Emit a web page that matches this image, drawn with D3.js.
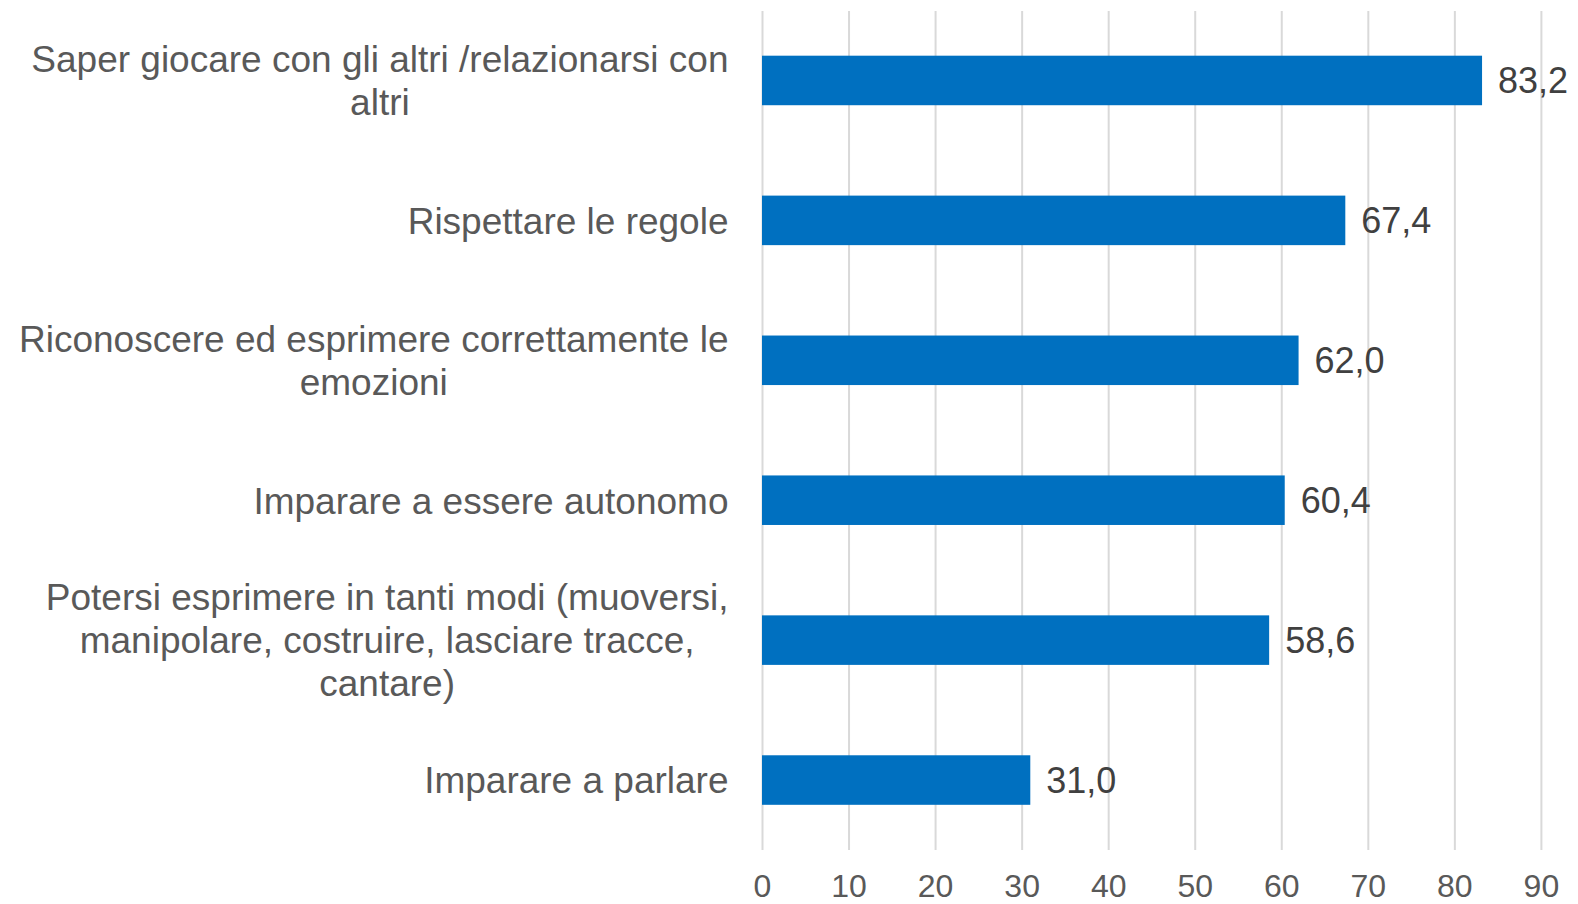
<!DOCTYPE html>
<html>
<head>
<meta charset="utf-8">
<script src="https://cdn.jsdelivr.net/npm/d3@7"></script>
<style>
  body { margin: 0; background: #fff; }
  text { font-family: "Liberation Sans", Arial, sans-serif; }
</style>
</head>
<body>
<script>
// categories (each one split in lines as in the picture)
const categories = [
  ["Saper giocare con gli altri /relazionarsi con", "altri"],
  ["Rispettare le regole"],
  ["Riconoscere ed esprimere correttamente le", "emozioni"],
  ["Imparare a essere autonomo"],
  ["Potersi esprimere in tanti modi (muoversi,", "manipolare, costruire, lasciare tracce,", "cantare)"],
  ["Imparare a parlare"]
]
const values = [83.2, 67.4, 62.0, 60.4, 58.6, 31.0]
const xTicks = [0, 10, 20, 30, 40, 50, 60, 70, 80, 90]

const svg = d3.select("body")
              .append("svg")
              .attr("width", 1578)
              .attr("height", 904)

const xscale = d3.scaleLinear()
                 .domain([0, 90])
                 .range([762, 1540.9])

const yscale = d3.scaleBand()
                 .domain(d3.range(categories.length))
                 .range([10.5, 850])
                 .paddingInner(0.646)
                 .paddingOuter(0.323)

// grid + tick labels
const axis = svg.append("g")
                .attr("transform", "translate(0,850)")
                .call(d3.axisBottom(xscale)
                        .tickValues(xTicks)
                        .tickSizeInner(-839)
                        .tickSizeOuter(0)
                        .tickFormat(d3.format("d")))
axis.select(".domain").remove()
axis.selectAll("line")
    .attr("stroke", "#d9d9d9")
    .attr("stroke-width", 2)
axis.selectAll("text")
    .attr("y", 47)
    .attr("dy", 0)
    .attr("fill", "#595959")
    .style("font-size", "32px")
    .style("font-family", "'Liberation Sans', Arial, sans-serif")

// bars
svg.selectAll("rect.bar")
   .data(values)
   .enter()
   .append("rect")
   .attr("class", "bar")
   .attr("x", xscale(0))
   .attr("y", (d, i) => yscale(i))
   .attr("width", d => xscale(d) - xscale(0))
   .attr("height", yscale.bandwidth())
   .attr("fill", "#0070c0")

// value labels
svg.selectAll("text.val")
   .data(values)
   .enter()
   .append("text")
   .attr("class", "val")
   .attr("x", d => xscale(d) + 16)
   .attr("y", (d, i) => yscale(i) + yscale.bandwidth() / 2)
   .attr("dy", "0.36em")
   .attr("fill", "#404040")
   .style("font-size", "36px")
   .text(d => d.toFixed(1).replace(".", ","))

// category labels: block right aligned, lines centered inside the block
const rightEdge = 728.5
const lineH = 43
categories.forEach((lines, i) => {
  const cy = yscale(i) + yscale.bandwidth() / 2
  const g = svg.append("g")
  const t = g.append("text")
             .attr("fill", "#595959")
             .style("font-size", "37px")
             .attr("text-anchor", "middle")
  const spans = lines.map((l, k) =>
    t.append("tspan")
     .attr("y", cy + (k - (lines.length - 1) / 2) * lineH)
     .attr("dy", "0.36em")
     .text(l))
  const w = d3.max(spans, s => s.node().getComputedTextLength())
  spans.forEach(s => s.attr("x", rightEdge - w / 2))
})
</script>
</body>
</html>
